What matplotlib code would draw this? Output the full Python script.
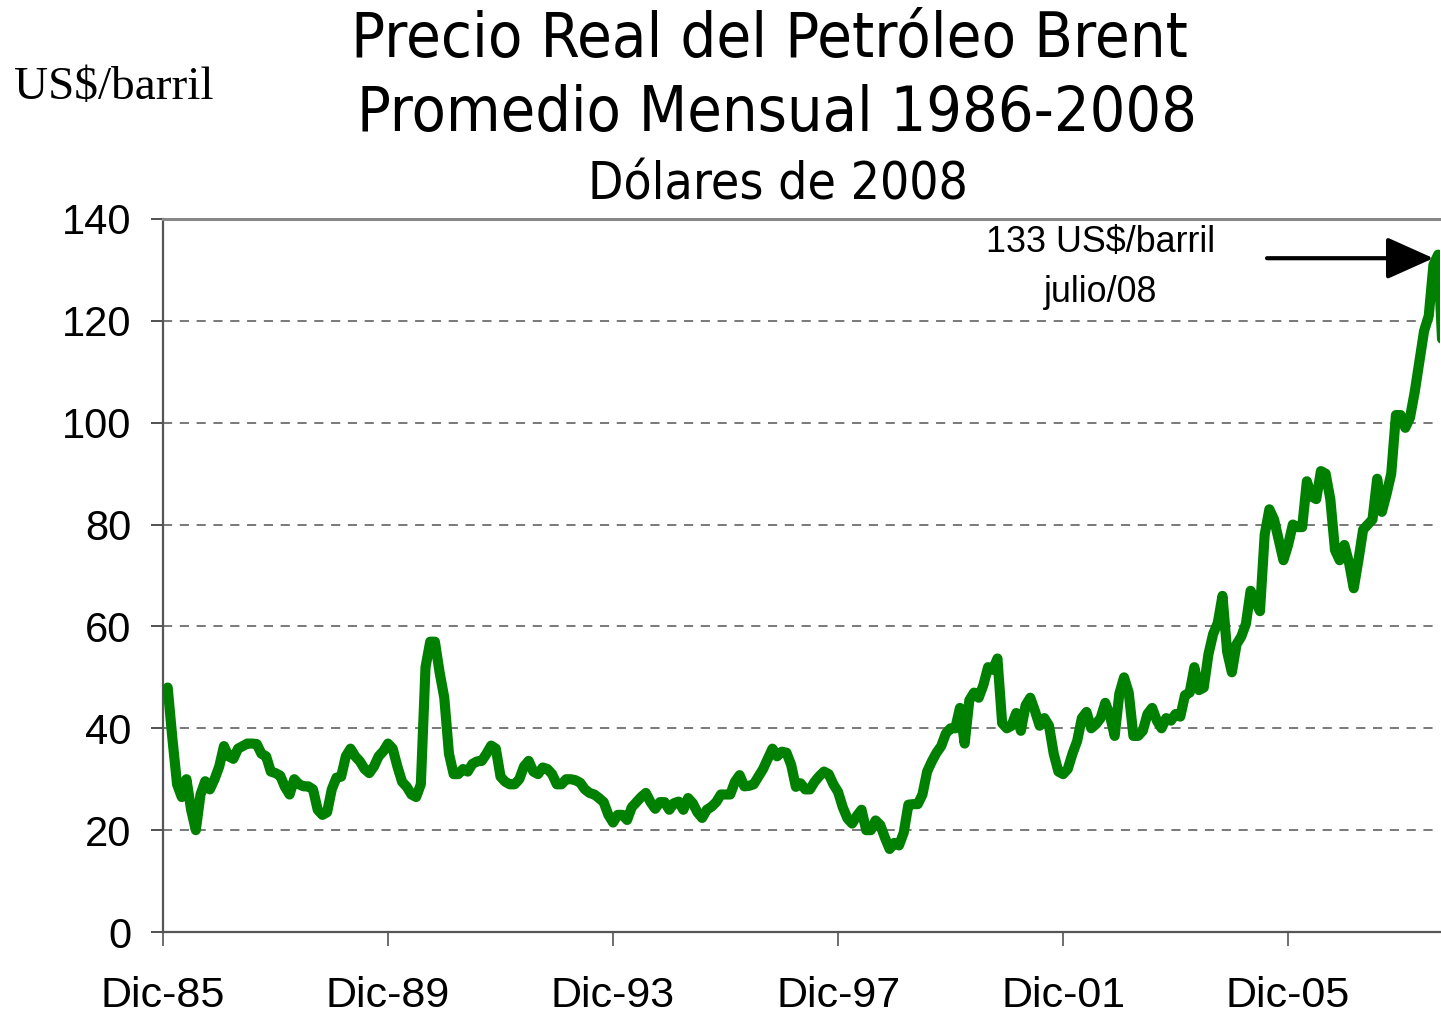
import matplotlib.pyplot as plt
import numpy as np

# precio real Brent, US$ de 2008, mensual desde ene-86 (mes 1 = ene-86, mes 0 = dic-85)
precio_86_89 = [48, 38, 29, 26.5, 30, 24, 20, 27, 29.6, 28, 30, 32.5,
                36.5, 34.5, 34, 36, 36.5, 37, 37, 36.9, 35, 34.5, 31.5, 31.2,
                30.7, 28.5, 27, 30, 29, 28.6, 28.6, 28, 24, 23, 23.5, 28,
                30.3, 30.5, 34.5, 36, 34.5, 33.5, 32, 31.2, 32.5, 34.5, 35.5, 37]
precio_90_93 = [36, 32.5, 29.5, 28.5, 27, 26.5, 29, 52, 57, 57, 51, 46,
                35, 31, 31, 32, 31.5, 33, 33.5, 33.6, 35, 36.6, 36, 30.5,
                29.5, 29, 29, 30, 32.5, 33.6, 31.5, 31, 32.3, 32, 31, 29,
                29, 30, 30, 29.8, 29.3, 28, 27.3, 27, 26.3, 25.5, 23, 21.5]
precio_94_97 = [23, 23, 22, 24.5, 25.5, 26.5, 27.3, 25.5, 24.2, 25.5, 25.5, 24,
                25.3, 25.6, 24, 26.3, 25.3, 23.5, 22.4, 24, 24.6, 25.5, 27, 27,
                27, 29.5, 30.8, 28.6, 28.7, 29, 30.5, 32, 34, 36, 34.5, 35.4,
                35.2, 32.8, 28.5, 29.2, 28, 28, 29.5, 30.6, 31.5, 31, 29, 27.5]
precio_98_01 = [24.5, 22.3, 21.3, 22.8, 24, 20, 20, 21.9, 21, 18.5, 16.3, 17.5,
                17, 19.5, 25, 25.1, 25.1, 27, 31.5, 33.5, 35.2, 36.5, 39, 40,
                40, 44, 37, 45.5, 47, 46, 48.5, 52, 51.5, 53.7, 41, 40,
                40.5, 43, 39.5, 44.5, 46, 43.4, 40.5, 42, 40.5, 35, 31.5, 31]
precio_02_05 = [32, 35, 37.5, 42, 43.2, 40, 40.8, 42, 45, 42.5, 38.5, 46.8,
                50, 47, 38.5, 38.5, 39.5, 42.8, 44, 41.5, 40, 42, 41.5, 42.8,
                42.3, 46.5, 47, 52, 47.5, 48, 54.5, 58.5, 60.7, 66, 55, 51,
                56.5, 58, 60.5, 67, 65, 63, 78, 83, 81, 77, 73, 76, 80]
precio_06_08 = [79.5, 79.5, 88.5, 85.5, 85, 90.5, 90, 85, 75, 73, 76, 72.5,
                67.5, 73, 79, 80, 81, 89, 82.5, 86, 90, 101.5, 101.5, 99,
                101, 106, 112, 118, 121, 131, 133, 113]

precio = np.array(precio_86_89 + precio_90_93 + precio_94_97 + precio_98_01
                  + precio_02_05 + precio_06_08)
meses = np.arange(1, len(precio) + 1)

tick_pos = [0, 48, 96, 144, 192, 240]
tick_lab = ["Dic-85", "Dic-89", "Dic-93", "Dic-97", "Dic-01", "Dic-05"]

fig = plt.figure(figsize=(14.41, 10.14), dpi=100)
ax = fig.add_axes([163 / 1441, 1 - 932 / 1014, 1277 / 1441, 713 / 1014])

ax.plot(meses, precio, color="#008000", lw=7.3, solid_joinstyle="round",
        solid_capstyle="round", zorder=3)

ax.set_xlim(0, 272.4)
ax.set_ylim(0, 140)
ax.set_yticks(np.arange(0, 141, 20))
ax.set_xticks(tick_pos)
ax.set_xticklabels(tick_lab)

for y in range(20, 140, 20):
    ax.axhline(y, color="#555555", lw=1.1, ls=(0, (6, 5)), zorder=1)

for s in ["left", "bottom"]:
    ax.spines[s].set_color("#555555")
    ax.spines[s].set_linewidth(1.6)
ax.spines["top"].set_color("#888888")
ax.spines["top"].set_linewidth(2.2)
ax.spines["right"].set_visible(False)

ax.tick_params(axis="y", direction="out", length=9, width=1.2, color="#333333",
               pad=14, labelsize=30, labelfontfamily="Liberation Sans")
ax.tick_params(axis="x", direction="out", length=10, width=1.2, color="#555555",
               pad=22, labelsize=31, labelfontfamily="Liberation Sans")

# anotación del máximo
ax.text(200.1, 135.4, "133 US$/barril", ha="center", va="center", fontsize=25.8,
        family="Liberation Sans")
ax.text(200.1, 125.6, "julio/08", ha="center", va="center", fontsize=25.8,
        family="Liberation Sans")
ax.annotate("", xy=(271.0, 132.3), xytext=(235.5, 132.3),
            arrowprops=dict(arrowstyle="-|>,head_length=1.45,head_width=0.65",
                            mutation_scale=20, lw=3, color="black",
                            shrinkA=0, shrinkB=0), zorder=4)

# títulos
fig.text(769.5 / 1441, 1 - 40 / 1014, "Precio Real del Petróleo Brent", ha="center",
         va="center", fontsize=45.4, family="DejaVu Sans", fontstretch="condensed")
fig.text(777 / 1441, 1 - 114 / 1014, "Promedio Mensual 1986-2008", ha="center",
         va="center", fontsize=45, family="DejaVu Sans", fontstretch="condensed")
fig.text(778 / 1441, 1 - 186 / 1014, "Dólares de 2008", ha="center", va="center",
         fontsize=37, family="DejaVu Sans", fontstretch="condensed")
fig.text(14 / 1441, 1 - 88 / 1014, "US$/barril", ha="left", va="center",
         fontsize=34, family="Liberation Serif")

fig.savefig("out.png", dpi=100)
